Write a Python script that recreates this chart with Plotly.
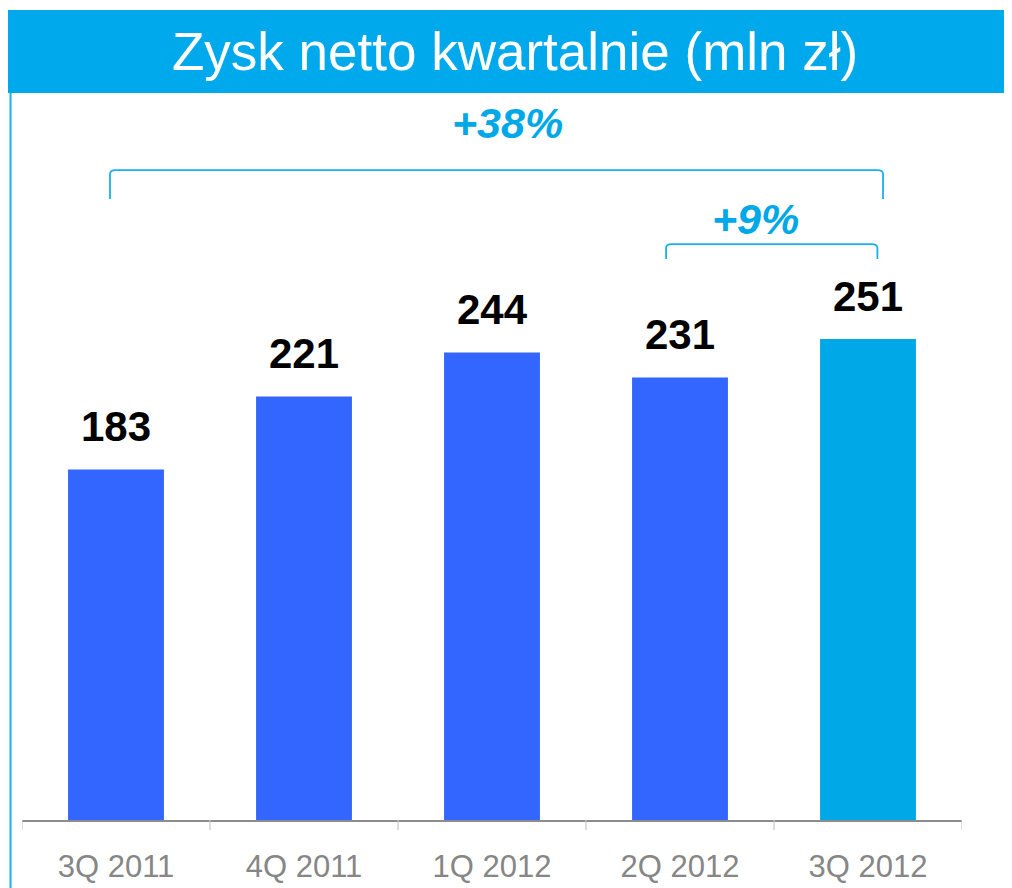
import plotly.graph_objects as go

categories = ["3Q 2011", "4Q 2011", "1Q 2012", "2Q 2012", "3Q 2012"]
values = [183, 221, 244, 231, 251]
bar_colors = ["#3366FF", "#3366FF", "#3366FF", "#3366FF", "#00A8E8"]
title_text = "Zysk netto kwartalnie (mln zł)"
growth_labels = ["+38%", "+9%"]

FONT = "Liberation Sans, Arial, sans-serif"
BLUE = "#00A8E8"

fig = go.Figure()
fig.add_trace(go.Bar(
    x=list(range(len(categories))),
    y=values,
    marker=dict(color=bar_colors, line=dict(width=0)),
    width=0.51,
    hoverinfo="skip",
))

# value labels
for i, v in enumerate(values):
    fig.add_annotation(x=i, y=v, text=f"<b>{v}</b>", showarrow=False,
                       yanchor="middle", yshift=43,
                       font=dict(family=FONT, size=42, color="#000000"))

shapes = []
# title bar
shapes.append(dict(type="rect", xref="paper", yref="paper",
                   x0=-0.0149, x1=1.049, y0=1.0097, y1=1.125,
                   fillcolor="#00A9EB", line=dict(width=0), layer="below"))
# left vertical line
shapes.append(dict(type="line", xref="paper", yref="paper",
                   x0=-0.0122, x1=-0.0122, y0=1.0097, y1=-0.1,
                   line=dict(color="#1AB0EA", width=2)))

def bracket(x0, x1, ytop, ybot):
    r = 0.03
    ry = 2.0
    return (f"M {x0},{ybot} L {x0},{ytop-ry} Q {x0},{ytop} {x0+r},{ytop} "
            f"L {x1-r},{ytop} Q {x1},{ytop} {x1},{ytop-ry} L {x1},{ybot}")

shapes.append(dict(type="path", xref="x", yref="y",
                   path=bracket(-0.032, 4.08, 339.2, 324.1),
                   line=dict(color="#1AB0EA", width=1.8)))
shapes.append(dict(type="path", xref="x", yref="y",
                   path=bracket(2.926, 4.05, 300.6, 292.8),
                   line=dict(color="#1AB0EA", width=1.8)))

fig.add_annotation(xref="paper", yref="paper", x=0.5245, y=1.0667,
                   xanchor="center", yanchor="middle",
                   text=title_text, showarrow=False,
                   font=dict(family=FONT, size=53, color="#FFFFFF"))
fig.add_annotation(x=2.085, y=337, text=f"<b><i>{growth_labels[0]}</i></b>",
                   showarrow=False, yanchor="bottom", yshift=25,
                   font=dict(family=FONT, size=43, color=BLUE))
fig.add_annotation(x=3.40, y=300.6, text=f"<b><i>{growth_labels[1]}</i></b>",
                   showarrow=False, yanchor="bottom", yshift=-1,
                   font=dict(family=FONT, size=43, color=BLUE))

# page adds an 8px body margin, so the figure is laid out 8px smaller
fig.update_layout(
    width=1004, height=880,
    margin=dict(l=14, r=50, t=92, b=68, autoexpand=False),
    paper_bgcolor="white", plot_bgcolor="white",
    showlegend=False,
    shapes=shapes,
    xaxis=dict(
        tickmode="array",
        tickvals=list(range(len(categories))),
        ticktext=categories,
        range=[-0.5, 4.5],
        showline=True, linecolor="#8C8C8C", linewidth=1.5,
        ticks="", showgrid=False, zeroline=False,
        automargin=False,
        ticklabelstandoff=18,
        tickfont=dict(family=FONT, size=31, color="#868686"),
        fixedrange=True,
    ),
    yaxis=dict(range=[0, 375.8], visible=False, fixedrange=True,
               automargin=False),
)

# category boundary ticks
for b in [-0.5, 0.5, 1.5, 2.5, 3.5, 4.5]:
    fig.add_shape(type="line", xref="x", yref="paper", x0=b, x1=b,
                  y0=0, y1=-0.0139, line=dict(color="#C8C8C8", width=1.2))

fig.write_html("out.html")
